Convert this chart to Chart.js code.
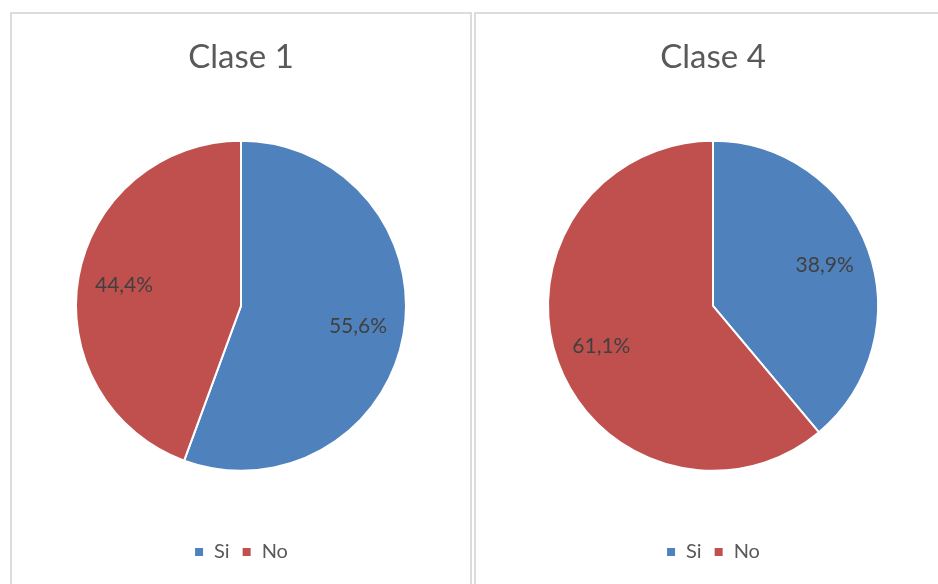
<!DOCTYPE html>
<html>
<head>
<meta charset="utf-8">
<script src="https://cdn.jsdelivr.net/npm/chart.js@4"></script>
<style>
  html, body { margin: 0; padding: 0; background: #fff; overflow: hidden; }
  body { width: 938px; height: 584px; position: relative; }
  .panel { position: absolute; top: 12px; height: 590px; border: 2px solid #dcdcdc; box-sizing: border-box; background: #fff; }
  #p1 { left: 10px; width: 462px; }
  #p2 { left: 474px; width: 480px; }
  .panel canvas { position: absolute; left: 0; top: 0; }
</style>
</head>
<body>
<div class="panel" id="p1"><canvas id="chart1"></canvas></div>
<div class="panel" id="p2"><canvas id="chart2"></canvas></div>
<script>
// data
const categories = ['Si', 'No'];
const clase1Values = [55.6, 44.4];
const clase4Values = [38.9, 61.1];
const colors = ['#4F81BD', '#C0504D'];
const FONT = 'Lato, "Open Sans", sans-serif';

window.charts = {};

// draws the percentage inside each slice
const sliceLabels = {
    id: 'sliceLabels',
    afterDatasetsDraw(chart) {
        const ctx = chart.ctx;
        const meta = chart.getDatasetMeta(0);
        const values = chart.data.datasets[0].data;
        ctx.save();
        ctx.font = '21px ' + FONT;
        ctx.fillStyle = '#404040';
        ctx.textAlign = 'center';
        ctx.textBaseline = 'middle';
        meta.data.forEach((arc, i) => {
            const p = arc.getProps(['x', 'y', 'startAngle', 'endAngle', 'outerRadius'], true);
            const mid = (p.startAngle + p.endAngle) / 2;
            const r = p.outerRadius * 0.72;
            const text = values[i].toFixed(1).replace('.', ',') + '%';
            ctx.fillText(text, p.x + Math.cos(mid) * r, p.y + Math.sin(mid) * r);
        });
        ctx.restore();
    }
};

function makePie(canvasId, title, values, width) {
    const canvas = document.getElementById(canvasId);
    canvas.width = width;
    canvas.height = 572;
    canvas.style.width = width + 'px';
    canvas.style.height = '572px';

    const config = {
        type: 'pie',
        data: {
            labels: categories,
            datasets: [{
                data: values,
                backgroundColor: colors,
                borderColor: '#ffffff',
                borderWidth: 2,
                radius: 165
            }]
        },
        options: {
            responsive: false,
            animation: false,
            layout: { padding: { top: 0, bottom: 14, left: 0, right: 0 } },
            plugins: {
                title: {
                    display: true,
                    text: title,
                    color: '#595959',
                    font: { family: FONT, size: 33, weight: 'normal' },
                    padding: { top: 24, bottom: 4 }
                },
                legend: {
                    display: true,
                    position: 'bottom',
                    labels: {
                        color: '#595959',
                        font: { family: FONT, size: 20 },
                        boxWidth: 10,
                        boxHeight: 10,
                        padding: 12
                    }
                },
                tooltip: { enabled: false }
            }
        },
        plugins: [sliceLabels]
    };
    window.charts[canvasId] = new Chart(canvas, config);
}

makePie('chart1', 'Clase 1', clase1Values, 458);
makePie('chart2', 'Clase 4', clase4Values, 474);
</script>
</body>
</html>
